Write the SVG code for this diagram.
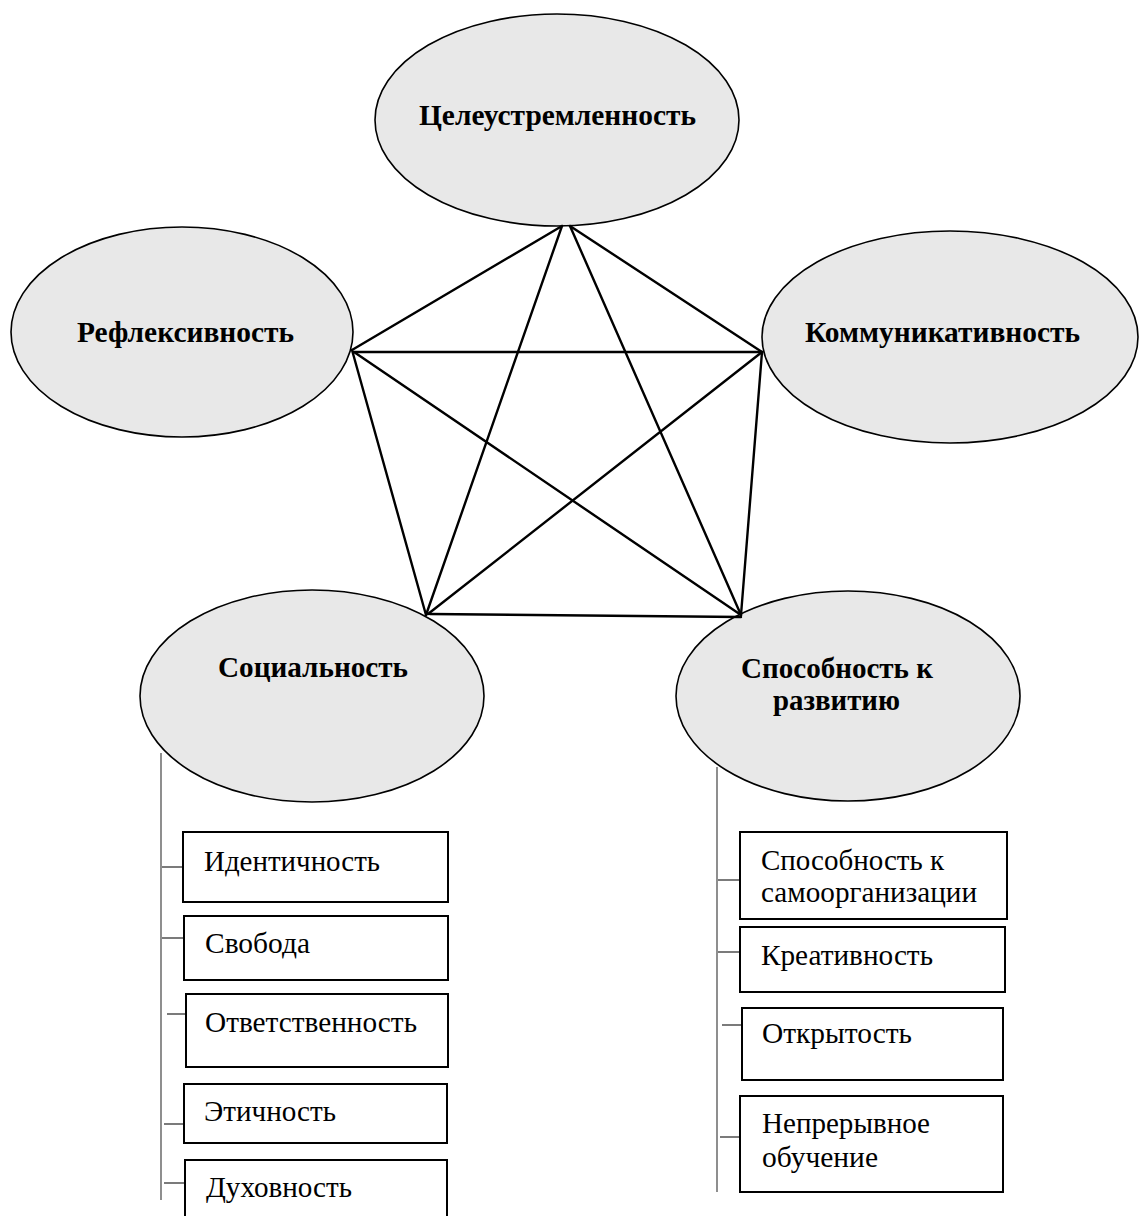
<svg xmlns="http://www.w3.org/2000/svg" width="1139" height="1216" viewBox="0 0 1139 1216">
<style>
.node ellipse { fill:#e8e8e8; stroke:#000; stroke-width:1.6; }
.lbl { font-family:"Liberation Serif","Times New Roman",serif; font-size:30px; font-weight:bold; fill:#000; }
.item rect { fill:#fff; stroke:#000; stroke-width:2; }
.itxt { font-family:"Liberation Serif","Times New Roman",serif; font-size:30px; fill:#000; }
.edge { stroke:#000; stroke-width:2.4; stroke-linecap:round; fill:none; }
.spine { stroke:#444; stroke-width:1.2; fill:none; }
.tick { stroke:#222; stroke-width:1.2; fill:none; }
</style>
<rect width="1139" height="1216" fill="#fff"/>

<g id="node-celeustremlennost" class="node">
  <ellipse cx="557" cy="120" rx="182" ry="106"/>
  <text class="lbl" x="419" y="125" textLength="277" lengthAdjust="spacingAndGlyphs">Целеустремленность</text>
</g>
<g id="node-refleksivnost" class="node">
  <ellipse cx="182" cy="332" rx="171" ry="105"/>
  <text class="lbl" x="77" y="342" textLength="217" lengthAdjust="spacingAndGlyphs">Рефлексивность</text>
</g>
<g id="node-kommunikativnost" class="node">
  <ellipse cx="950" cy="337" rx="188" ry="106"/>
  <text class="lbl" x="805" y="342" textLength="275" lengthAdjust="spacingAndGlyphs">Коммуникативность</text>
</g>
<g id="node-socialnost" class="node">
  <ellipse cx="312" cy="696" rx="172" ry="106"/>
  <text class="lbl" x="218" y="677" textLength="190" lengthAdjust="spacingAndGlyphs">Социальность</text>
</g>
<g id="node-razvitie" class="node">
  <ellipse cx="848" cy="696" rx="172" ry="105"/>
  <text class="lbl" x="741" y="678" textLength="192" lengthAdjust="spacingAndGlyphs">Способность к</text>
  <text class="lbl" x="773" y="710" textLength="127" lengthAdjust="spacingAndGlyphs">развитию</text>
</g>

<g id="connectors">
  <line class="edge" x1="562" y1="226" x2="352" y2="350"/>
  <line class="edge" x1="570" y1="226" x2="762" y2="352"/>
  <line class="edge" x1="562" y1="226" x2="426" y2="615"/>
  <line class="edge" x1="570" y1="226" x2="741" y2="615"/>
  <line class="edge" x1="354" y1="352" x2="762" y2="352"/>
  <line class="edge" x1="352" y1="350" x2="426" y2="615"/>
  <line class="edge" x1="354" y1="352" x2="741" y2="615"/>
  <line class="edge" x1="762" y1="352" x2="428" y2="614"/>
  <line class="edge" x1="762" y1="352" x2="741" y2="615"/>
  <line class="edge" x1="430" y1="614" x2="741" y2="617"/>

  <line class="spine" x1="161" y1="753" x2="161" y2="1200"/>
  <line class="tick" x1="162" y1="867" x2="183" y2="867"/>
  <line class="tick" x1="162" y1="938" x2="184" y2="938"/>
  <line class="tick" x1="167" y1="1014" x2="186" y2="1014"/>
  <line class="tick" x1="164" y1="1124" x2="184" y2="1124"/>
  <line class="tick" x1="164" y1="1183" x2="185" y2="1183"/>

  <line class="spine" x1="717" y1="767" x2="717" y2="1192"/>
  <line class="tick" x1="718" y1="880" x2="740" y2="880"/>
  <line class="tick" x1="718" y1="952" x2="740" y2="952"/>
  <line class="tick" x1="722" y1="1025" x2="742" y2="1025"/>
  <line class="tick" x1="720" y1="1137" x2="740" y2="1137"/>
</g>

<g id="item-identichnost" class="item">
  <rect x="183" y="832" width="265" height="70"/>
  <text class="itxt" x="204" y="871" textLength="176" lengthAdjust="spacingAndGlyphs">Идентичность</text>
</g>
<g id="item-svoboda" class="item">
  <rect x="184" y="916" width="264" height="64"/>
  <text class="itxt" x="205" y="953" textLength="105" lengthAdjust="spacingAndGlyphs">Свобода</text>
</g>
<g id="item-otvetstvennost" class="item">
  <rect x="186" y="994" width="262" height="73"/>
  <text class="itxt" x="205" y="1032" textLength="212" lengthAdjust="spacingAndGlyphs">Ответственность</text>
</g>
<g id="item-etichnost" class="item">
  <rect x="184" y="1084" width="263" height="59"/>
  <text class="itxt" x="204" y="1121" textLength="132" lengthAdjust="spacingAndGlyphs">Этичность</text>
</g>
<g id="item-dukhovnost" class="item">
  <rect x="185" y="1160" width="262" height="70"/>
  <text class="itxt" x="206" y="1197" textLength="146" lengthAdjust="spacingAndGlyphs">Духовность</text>
</g>

<g id="item-samoorganizaciya" class="item">
  <rect x="740" y="832" width="267" height="87"/>
  <text class="itxt" x="761" y="870" textLength="183" lengthAdjust="spacingAndGlyphs">Способность к</text>
  <text class="itxt" x="761" y="902" textLength="216" lengthAdjust="spacingAndGlyphs">самоорганизации</text>
</g>
<g id="item-kreativnost" class="item">
  <rect x="740" y="927" width="265" height="65"/>
  <text class="itxt" x="761" y="965" textLength="172" lengthAdjust="spacingAndGlyphs">Креативность</text>
</g>
<g id="item-otkrytost" class="item">
  <rect x="742" y="1008" width="261" height="72"/>
  <text class="itxt" x="762" y="1043" textLength="150" lengthAdjust="spacingAndGlyphs">Открытость</text>
</g>
<g id="item-obuchenie" class="item">
  <rect x="740" y="1096" width="263" height="96"/>
  <text class="itxt" x="762" y="1133" textLength="168" lengthAdjust="spacingAndGlyphs">Непрерывное</text>
  <text class="itxt" x="762" y="1167" textLength="116" lengthAdjust="spacingAndGlyphs">обучение</text>
</g>
</svg>
